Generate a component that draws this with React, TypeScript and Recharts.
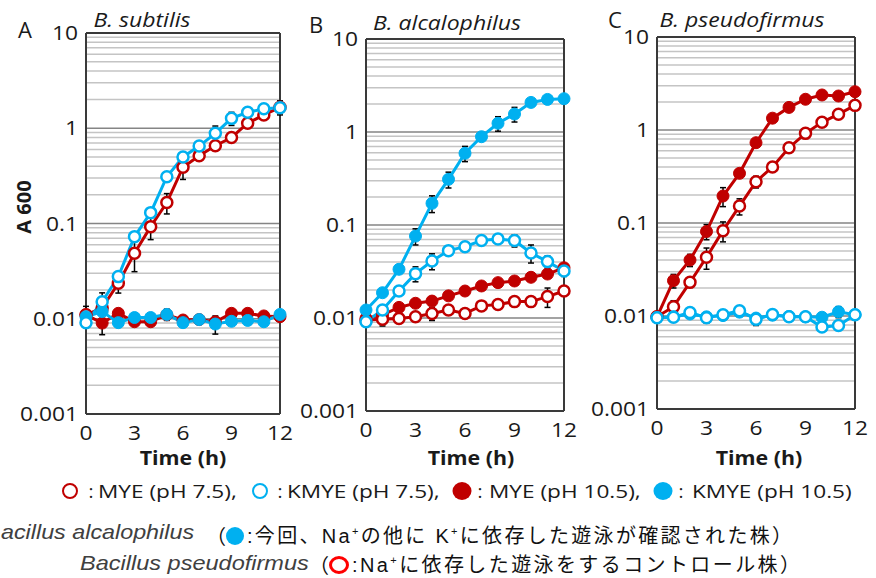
import React from 'react';
import { LineChart, Line, XAxis, YAxis, ReferenceLine, ErrorBar } from 'recharts';

const RED = '#c00000';
const BLUE = '#00b0f0';
const H = 480;

const HOURS = [0, 1, 2, 3, 4, 5, 6, 7, 8, 9, 10, 11, 12];
const X_TICKS = [0, 3, 6, 9, 12];
const Y_TICKS = [0.001, 0.01, 0.1, 1, 10];
const MINOR_STEPS = [2, 3, 4, 5, 6, 7, 8, 9];
const GRID_MINOR = Y_TICKS.slice(0, -1).flatMap((d) => MINOR_STEPS.map((m) => +(d * m).toPrecision(2)));

// A: B. subtilis
const A_MYE75 = [0.011, 0.013, 0.0236, 0.0487, 0.0927, 0.166, 0.39, 0.515, 0.656, 0.8, 1.13, 1.38, 1.66];
const A_KMYE75 = [0.0091, 0.0151, 0.0277, 0.0728, 0.13, 0.31, 0.5, 0.65, 0.885, 1.27, 1.47, 1.6, 1.64];
const A_MYE105 = [0.011, 0.009, 0.0114, 0.0093, 0.0093, 0.011, 0.0097, 0.0098, 0.0093, 0.0114, 0.0114, 0.0107, 0.0105];
const A_KMYE105 = [0.0105, 0.0119, 0.0091, 0.0103, 0.0103, 0.0111, 0.0091, 0.0098, 0.0088, 0.0094, 0.0096, 0.0093, 0.0111];
const A_MYE75_SD = [0, 0, 0.005, 0.0175, 0.025, 0.04, 0.1, 0, 0, 0, 0, 0, 0.28];
const A_KMYE75_SD = [0, 0.0036, 0, 0, 0, 0, 0, 0, 0.17, 0.2, 0, 0, 0];
const A_MYE105_SD = [0.0025, 0.0022, 0, 0, 0, 0, 0, 0, 0, 0, 0, 0, 0];
const A_KMYE105_SD = [0, 0, 0, 0, 0, 0.0015, 0, 0, 0.0019, 0, 0, 0, 0];

// B: B. alcalophilus
const B_MYE75 = [0.0095, 0.0097, 0.0099, 0.0103, 0.0112, 0.0122, 0.0112, 0.0135, 0.014, 0.015, 0.015, 0.017, 0.0195];
const B_KMYE75 = [0.0091, 0.0122, 0.0195, 0.03, 0.041, 0.053, 0.0585, 0.068, 0.0707, 0.068, 0.05, 0.0404, 0.032];
const B_MYE105 = [0.0099, 0.0108, 0.013, 0.0144, 0.0152, 0.0173, 0.0195, 0.0221, 0.024, 0.025, 0.0274, 0.0297, 0.0347];
const B_KMYE105 = [0.0122, 0.0187, 0.0334, 0.076, 0.171, 0.31, 0.59, 0.89, 1.24, 1.56, 2.08, 2.24, 2.28];
const B_MYE75_SD = [0, 0.0015, 0, 0, 0.0018, 0, 0, 0, 0, 0, 0, 0.004, 0];
const B_KMYE75_SD = [0, 0, 0, 0.0055, 0.008, 0, 0, 0, 0, 0.01, 0.011, 0.006, 0.004];
const B_MYE105_SD = [0, 0, 0, 0, 0, 0, 0, 0, 0, 0, 0, 0, 0];
const B_KMYE105_SD = [0, 0, 0, 0.015, 0.035, 0.06, 0.11, 0, 0.22, 0.28, 0, 0, 0];

// C: B. pseudofirmus
const C_MYE75 = [0.0098, 0.0126, 0.023, 0.0428, 0.0827, 0.152, 0.278, 0.4, 0.645, 0.92, 1.21, 1.48, 1.84];
const C_KMYE75 = [0.0096, 0.0097, 0.0109, 0.0096, 0.0103, 0.0114, 0.0092, 0.0104, 0.0098, 0.0098, 0.0076, 0.0079, 0.0103];
const C_MYE105 = [0.0098, 0.024, 0.04, 0.081, 0.195, 0.342, 0.73, 1.34, 1.75, 2.14, 2.38, 2.32, 2.58];
const C_KMYE105 = [0.0096, 0.0098, 0.0105, 0.0098, 0.0101, 0.011, 0.0095, 0.0102, 0.0099, 0.0098, 0.0097, 0.0111, 0.0103];
const C_MYE75_SD = [0, 0.002, 0, 0.011, 0.02, 0.03, 0.04, 0, 0, 0, 0, 0, 0];
const C_KMYE75_SD = [0.0008, 0, 0.0012, 0.0012, 0.001, 0, 0.0013, 0.0012, 0, 0, 0, 0, 0];
const C_MYE105_SD = [0, 0.004, 0.006, 0.015, 0.045, 0, 0, 0, 0, 0, 0, 0, 0];
const C_KMYE105_SD = [0, 0, 0, 0, 0, 0, 0, 0, 0, 0, 0, 0.0015, 0];

const rowsOf = (mye75, kmye75, mye105, kmye105, sd75, ksd75, sd105, ksd105) =>
  HOURS.map((t, i) => ({
    t,
    mye75: mye75[i],
    kmye75: kmye75[i],
    mye105: mye105[i],
    kmye105: kmye105[i],
    mye75Sd: sd75[i],
    kmye75Sd: ksd75[i],
    mye105Sd: sd105[i],
    kmye105Sd: ksd105[i]
  }));

const PANELS = [
  {
    key: 'A',
    left: 0,
    width: 300,
    plot: { left: 86, right: 280, top: 33, bottom: 414 },
    rows: rowsOf(A_MYE75, A_KMYE75, A_MYE105, A_KMYE105, A_MYE75_SD, A_KMYE75_SD, A_MYE105_SD, A_KMYE105_SD)
  },
  {
    key: 'B',
    left: 290,
    width: 300,
    plot: { left: 366, right: 564, top: 39, bottom: 411 },
    rows: rowsOf(B_MYE75, B_KMYE75, B_MYE105, B_KMYE105, B_MYE75_SD, B_KMYE75_SD, B_MYE105_SD, B_KMYE105_SD)
  },
  {
    key: 'C',
    left: 580,
    width: 296,
    plot: { left: 657, right: 855, top: 37, bottom: 409 },
    rows: rowsOf(C_MYE75, C_KMYE75, C_MYE105, C_KMYE105, C_MYE75_SD, C_KMYE75_SD, C_MYE105_SD, C_KMYE105_SD)
  }
];

const FONT = '"Open Sans", "Noto Sans", sans-serif';
const JP_FONT = '"Liberation Sans", "Noto Sans CJK JP", sans-serif';
const CJK = '"Noto Sans CJK JP", sans-serif';
const INK = '#1a1a1a';

// the reference lettering is drawn a little wider than Open Sans
const stretchTick = (dy) => (props) => {
  const { x, y, payload, textAnchor } = props;
  return (
    <text
      transform={`translate(${x},${y}) scale(1.14,1)`}
      textAnchor={textAnchor}
      dy={dy}
      fontSize={20}
      fontFamily={FONT}
      fill={INK}
    >
      {String(payload.value)}
    </text>
  );
};

const openDot = (color) => ({ r: 5.5, fill: '#fff', stroke: color, strokeWidth: 2.5 });
const fullDot = (color) => ({ r: 6, fill: color, stroke: color, strokeWidth: 1 });

const series = [
  { key: 'mye105', color: RED, dot: fullDot(RED) },
  { key: 'mye75', color: RED, dot: openDot(RED) },
  { key: 'kmye105', color: BLUE, dot: fullDot(BLUE) },
  { key: 'kmye75', color: BLUE, dot: openDot(BLUE) }
];

const Panel = ({ left, width, plot, rows }) => (
  <div style={{ position: 'absolute', left, top: 0 }}>
    <LineChart
      width={width}
      height={H}
      data={rows}
      margin={{ top: plot.top, right: left + width - plot.right, bottom: 0, left: 0 }}
    >
      {GRID_MINOR.map((v) => (
        <ReferenceLine key={'g' + v} y={v} stroke="#c4c4c4" strokeWidth={1.5} />
      ))}
      {[0.01, 0.1, 1].map((v) => (
        <ReferenceLine key={'m' + v} y={v} stroke="#858585" strokeWidth={1.5} />
      ))}
      <ReferenceLine y={10} stroke="#3a3a3a" strokeWidth={2} />
      <ReferenceLine y={0.001} stroke="#3a3a3a" strokeWidth={2} />
      <ReferenceLine x={0} stroke="#3a3a3a" strokeWidth={2} />
      <ReferenceLine x={12} stroke="#3a3a3a" strokeWidth={2} />
      <XAxis
        type="number"
        dataKey="t"
        domain={[0, 12]}
        ticks={X_TICKS}
        interval={0}
        height={H - plot.bottom}
        axisLine={false}
        tickLine={false}
        tickMargin={6}
        tick={stretchTick('0.71em')}
      />
      <YAxis
        type="number"
        scale="log"
        domain={[0.001, 10]}
        ticks={Y_TICKS}
        interval={0}
        width={plot.left - left}
        axisLine={false}
        tickLine={false}
        tickMargin={2}
        tick={stretchTick('0.355em')}
      />
      {series.map((s) => (
        <Line
          key={s.key}
          dataKey={s.key}
          stroke={s.color}
          strokeWidth={3}
          dot={s.dot}
          activeDot={false}
          isAnimationActive={false}
        >
          <ErrorBar dataKey={s.key + 'Sd'} direction="y" width={3} strokeWidth={1.5} stroke="#000" />
        </Line>
      ))}
    </LineChart>
  </div>
);

const Txt = ({ x, y, children, sx = 1, rotate = 0, style = {} }) => (
  <div
    style={{
      position: 'absolute',
      left: x,
      top: y,
      transform: `translate(-50%, -50%) rotate(${rotate}deg) scaleX(${sx})`,
      whiteSpace: 'nowrap',
      lineHeight: 1,
      fontFamily: FONT,
      color: INK,
      ...style
    }}
  >
    {children}
  </div>
);

const Circle = ({ color, filled, w = 16, h = 16, border = 2 }) => (
  <span
    style={{
      display: 'inline-block',
      width: w,
      height: h,
      boxSizing: 'border-box',
      borderRadius: '50%',
      border: filled ? 'none' : `${border}px solid ${color}`,
      background: filled ? color : '#fff'
    }}
  />
);

const LEGEND = [
  { label: 'MYE (pH 7.5),', color: RED, filled: false, cx: 70, colon: 88, text: 98 },
  { label: 'KMYE (pH 7.5),', color: BLUE, filled: false, cx: 260, colon: 277, text: 287 },
  { label: 'MYE (pH 10.5),', color: RED, filled: true, cx: 462, colon: 477, text: 489 },
  { label: 'KMYE (pH 10.5)', color: BLUE, filled: true, cx: 663, colon: 678, text: 692 }
];

const LEG_Y = 491;

const Sup = () => <sup style={{ fontSize: 11, lineHeight: 0 }}>+</sup>;

export default function App() {
  return (
    <div
      style={{
        position: 'absolute',
        left: 0,
        top: 0,
        width: 876,
        height: 578,
        overflow: 'hidden',
        background: '#fff'
      }}
    >
      {PANELS.map((p) => (
        <Panel key={p.key} {...p} />
      ))}

      <Txt x={25} y={29} style={{ fontSize: 22 }}>A</Txt>
      <Txt x={316} y={24} style={{ fontSize: 22 }}>B</Txt>
      <Txt x={615} y={19} style={{ fontSize: 22 }}>C</Txt>

      <Txt x={142} y={20} sx={1.15} style={{ fontSize: 20, fontStyle: 'italic' }}>B. subtilis</Txt>
      <Txt x={447} y={23} sx={1.15} style={{ fontSize: 20, fontStyle: 'italic' }}>B. alcalophilus</Txt>
      <Txt x={742} y={20} sx={1.15} style={{ fontSize: 20, fontStyle: 'italic' }}>B. pseudofirmus</Txt>

      <Txt x={24} y={207} rotate={-90} style={{ fontSize: 20, fontWeight: 700 }}>A 600</Txt>
      <Txt x={183} y={458} sx={1.07} style={{ fontSize: 20, fontWeight: 700 }}>Time (h)</Txt>
      <Txt x={471} y={458} sx={1.07} style={{ fontSize: 20, fontWeight: 700 }}>Time (h)</Txt>
      <Txt x={759} y={458} sx={1.07} style={{ fontSize: 20, fontWeight: 700 }}>Time (h)</Txt>

      {LEGEND.map((l) => (
        <React.Fragment key={l.label}>
          <div
            style={{
              position: 'absolute',
              left: l.cx,
              top: LEG_Y,
              transform: 'translate(-50%, -50%)',
              lineHeight: 0
            }}
          >
            <Circle color={l.color} filled={l.filled} w={l.filled ? 19 : 16} h={l.filled ? 18 : 16} />
          </div>
          <Txt x={l.colon + 3} y={LEG_Y} style={{ fontSize: 19 }}>:</Txt>
          <div
            style={{
              position: 'absolute',
              left: l.text,
              top: LEG_Y,
              transform: 'translateY(-50%) scaleX(1.19)',
              transformOrigin: 'left center',
              whiteSpace: 'nowrap',
              lineHeight: 1,
              fontFamily: FONT,
              fontSize: 19,
              color: INK
            }}
          >
            {l.label}
          </div>
        </React.Fragment>
      ))}

      <div
        style={{
          position: 'absolute',
          left: 1,
          top: 531,
          transform: 'translateY(-50%) scaleX(1.11)',
          transformOrigin: 'left center',
          whiteSpace: 'nowrap',
          fontFamily: JP_FONT,
          fontStyle: 'italic',
          fontSize: 21,
          lineHeight: 1,
          color: '#404040'
        }}
      >
        acillus alcalophilus
      </div>
      <div
        style={{
          position: 'absolute',
          left: 206,
          top: 536,
          transform: 'translateY(-50%)',
          display: 'flex',
          alignItems: 'center',
          whiteSpace: 'nowrap',
          fontFamily: JP_FONT,
          fontSize: 20,
          lineHeight: 1,
          color: '#111',
          letterSpacing: 2.3
        }}
      >
        <span style={{ fontFamily: CJK, width: 20, letterSpacing: 0, textAlign: 'right' }}>（</span>
        <Circle color={BLUE} filled w={18} h={18} />
        <span style={{ marginLeft: 3 }}>
          :今回、Na<Sup />の他に K<Sup />に依存した遊泳が確認された株）
        </span>
      </div>

      <div
        style={{
          position: 'absolute',
          left: 80,
          top: 562,
          transform: 'translateY(-50%) scaleX(1.12)',
          transformOrigin: 'left center',
          whiteSpace: 'nowrap',
          fontFamily: JP_FONT,
          fontStyle: 'italic',
          fontSize: 21,
          lineHeight: 1,
          color: '#404040'
        }}
      >
        Bacillus pseudofirmus
      </div>
      <div
        style={{
          position: 'absolute',
          left: 309,
          top: 565,
          transform: 'translateY(-50%)',
          display: 'flex',
          alignItems: 'center',
          whiteSpace: 'nowrap',
          fontFamily: JP_FONT,
          fontSize: 20,
          lineHeight: 1,
          color: '#111',
          letterSpacing: 2.4
        }}
      >
        <span style={{ fontFamily: CJK, width: 20, letterSpacing: 0, textAlign: 'right' }}>（</span>
        <Circle color="#ff0000" w={20} h={18} border={3.5} />
        <span style={{ marginLeft: 3 }}>
          :Na<Sup />に依存した遊泳をするコントロール株）
        </span>
      </div>
    </div>
  );
}
